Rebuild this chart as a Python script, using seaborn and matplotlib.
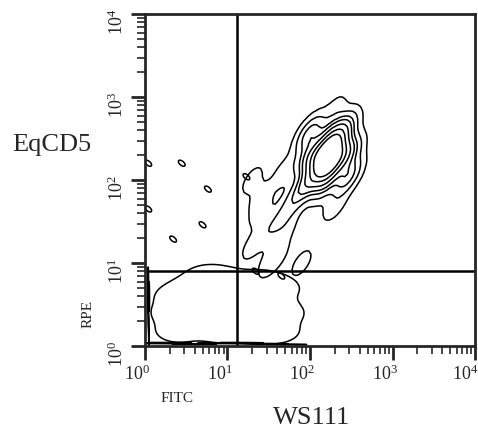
import numpy as np
import matplotlib
matplotlib.use('Agg')
import matplotlib.pyplot as plt
import seaborn as sns
from matplotlib.transforms import ScaledTranslation

# ---------------------------------------------------
# data (fluorescence channel values)
# bright double-positive population (WS111+ EqCD5+)
main_x = [166, 219, 126, 166, 166, 209, 126,
          282, 100, 178, 158, 251, 89, 282, 100,
          63, 45, 32, 25, 50, 200, 200,
          20, 25, 20, 40, 79, 32, 50]
main_y = [191, 191, 191, 251, 145, 282, 126,
          200, 200, 355, 100, 398, 89, 112, 355,
          56, 35, 25, 63, 126, 50, 708,
          16, 40, 100, 12.6, 10, 10, 25]
main_w = [30, 22, 22, 22, 22, 16, 16,
          10, 10, 10, 10, 10, 10, 10, 10,
          4, 2.5, 2, 1.5, 2, 2, 1.5,
          1.5, 1.5, 1.5, 1.5, 1.5, 1.5, 1.5]

# dim population near the origin
dim_x = [2.2, 2.5, 4, 6, 10, 5, 10, 20, 30, 45, 40, 25, 2.5, 8, 20, 40]
dim_y = [2.5, 4, 5, 7, 6, 3, 3, 4, 3, 2.5, 5, 6, 1.5, 1.5, 1.5, 1.5]

# events piled on the lower axis
floor_x = [1.3, 2, 4, 8, 15, 30, 50]
floor_y = [1.08, 1.1, 1.06, 1.08, 1.1, 1.07, 1.05]

# thin streak along the left axis
edge_x = [1.12, 1.1, 1.13, 1.1]
edge_y = [1.5, 2.5, 4, 6]

# scattered single events
isl_x = [1.1, 1.1, 2.8, 5.8, 5.0, 2.2, 17, 22, 45]
isl_y = [160, 45, 160, 78, 29, 19.5, 110, 8, 7]

# quadrant gates
gate_x = 13
gate_y = 8.1

tick_vals = [1, 10, 100, 1000, 10000]
tick_labels = ['$10^{0}$', '$10^{1}$', '$10^{2}$', '$10^{3}$', '$10^{4}$']

# ---------------------------------------------------
sns.set_style('ticks')
plt.rcParams['font.family'] = ['Liberation Serif', 'DejaVu Serif']
plt.rcParams['mathtext.fontset'] = 'custom'
plt.rcParams['mathtext.rm'] = 'Liberation Serif'
plt.rcParams['mathtext.it'] = 'Liberation Serif'

fig = plt.figure(figsize=(4.78, 4.30), dpi=100)
ax = fig.add_axes([0.303, 0.195, 0.691, 0.772])

kw = dict(log_scale=True, ax=ax, color='black', linewidths=1.1)
sns.kdeplot(x=main_x, y=main_y, weights=main_w,
            levels=[0.02, 0.1, 0.17, 0.25, 0.34, 0.45, 0.58],
            bw_method=0.45, gridsize=70, **kw)
sns.kdeplot(x=dim_x, y=dim_y, levels=[0.08], bw_method=0.42, gridsize=60, **kw)
sns.kdeplot(x=floor_x, y=floor_y, levels=[0.3], bw_method=0.3, gridsize=120, **kw)
sns.kdeplot(x=edge_x, y=edge_y, levels=[0.3], bw_method=0.5, gridsize=120, **kw)
sns.kdeplot(x=isl_x, y=isl_y, levels=[0.5], bw_method=0.06, gridsize=200, **kw)

ax.axvline(gate_x, color='black', lw=1.8)
ax.axhline(gate_y, color='black', lw=1.8)

ax.set_xscale('log')
ax.set_yscale('log')
ax.set_xlim(1, 10000)
ax.set_ylim(1, 10000)
ax.set_xticks(tick_vals)
ax.set_xticklabels(tick_labels, fontsize=13)
ax.set_yticks(tick_vals)
ax.set_yticklabels(tick_labels, fontsize=13, rotation=90, va='center')
ax.tick_params(which='major', direction='out', length=10, width=2, pad=3)
ax.tick_params(which='minor', direction='out', length=6, width=1.2)
ax.set_xlabel('')
ax.set_ylabel('')
for s in ax.spines.values():
    s.set_visible(True)
    s.set_linewidth(2)

# labels sit a little off their ticks, as in the original
for lab in ax.get_xticklabels():
    lab.set_transform(lab.get_transform() + ScaledTranslation(-0.08, 0, fig.dpi_scale_trans))
ax.get_xticklabels()[-1].set_transform(ax.get_xticklabels()[-1].get_transform()
                                       + ScaledTranslation(-0.02, 0, fig.dpi_scale_trans))
for lab in ax.get_yticklabels():
    lab.set_transform(lab.get_transform() + ScaledTranslation(0, -0.08, fig.dpi_scale_trans))

fig.text(0.109, 0.663, 'EqCD5', fontsize=19, ha='center', va='center')
fig.text(0.184, 0.270, 'RPE', fontsize=11, ha='center', va='center', rotation=90)
fig.text(0.370, 0.074, 'FITC', fontsize=11, ha='center', va='center')
fig.text(0.651, 0.028, 'WS111', fontsize=19, ha='center', va='center')

plt.savefig('out.png', dpi=100)
plt.close()
